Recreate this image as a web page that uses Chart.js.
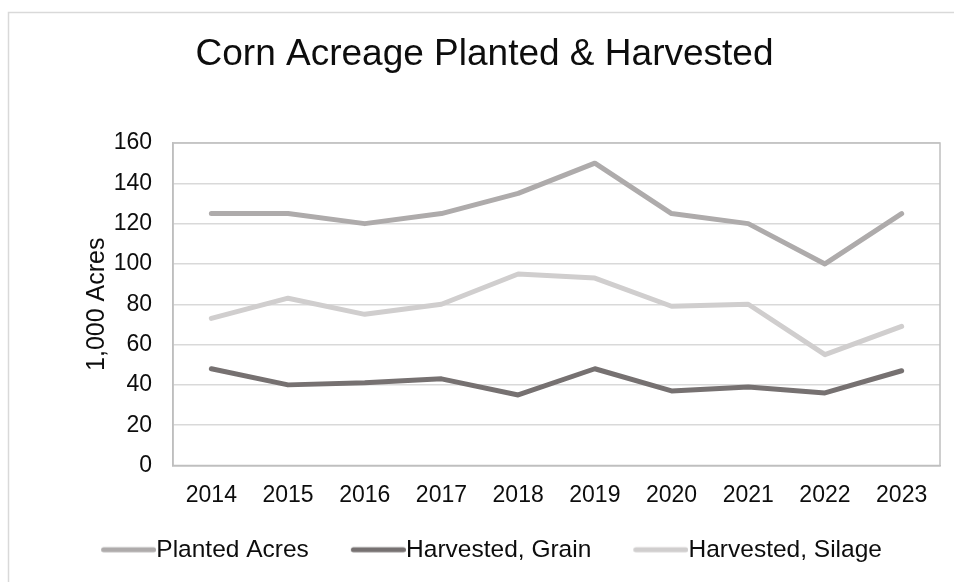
<!DOCTYPE html>
<html>
<head>
<meta charset="utf-8">
<script src="https://cdn.jsdelivr.net/npm/chart.js@4"></script>
<style>
  html, body { margin: 0; padding: 0; background: #fff; }
  #wrap { width: 954px; height: 582px; }
</style>
</head>
<body>
<div id="wrap"><canvas id="cornChart" width="954" height="582"></canvas></div>
<script>
const years = ["2014", "2015", "2016", "2017", "2018", "2019", "2020", "2021", "2022", "2023"];
const plantedAcres = [125, 125, 120, 125, 135, 150, 125, 120, 100, 125];
const harvestedGrain = [48, 40, 41, 43, 35, 48, 37, 39, 36, 47];
const harvestedSilage = [73, 83, 75, 80, 95, 93, 79, 80, 55, 69];
const seriesNames = ["Planted Acres", "Harvested, Grain", "Harvested, Silage"];
const seriesColors = ["#aeabab", "#767171", "#d0cece"];

// line image for the legend, pushed right so it touches the text
function legendLine(color) {
    const c = document.createElement('canvas');
    c.width = 81;
    c.height = 8;
    const g = c.getContext('2d');
    g.strokeStyle = color;
    g.lineWidth = 5;
    g.lineCap = 'round';
    g.beginPath();
    g.moveTo(28.5, 4);
    g.lineTo(78.5, 4);
    g.stroke();
    return c;
}

const frame = {
    id: 'frame',
    beforeDraw(chart) {
        const ctx = chart.ctx;
        ctx.save();
        ctx.strokeStyle = '#d9d9d9';
        ctx.lineWidth = 1.5;
        ctx.strokeRect(8.5, 12.5, 960, 600);
        ctx.restore();
    },
    beforeDatasetsDraw(chart) {
        const a = chart.chartArea;
        const ctx = chart.ctx;
        ctx.save();
        ctx.strokeStyle = '#bfbfbf';
        ctx.lineWidth = 1.5;
        ctx.strokeRect(a.left, a.top, a.right - a.left, a.bottom - a.top);
        ctx.restore();
    }
};

function createCornChart() {
    const ctx = document.getElementById('cornChart').getContext('2d');
    const values = [plantedAcres, harvestedGrain, harvestedSilage];

    new Chart(ctx, {
        type: 'line',
        data: {
            labels: years,
            datasets: values.map((v, i) => ({
                label: seriesNames[i],
                data: v,
                borderColor: seriesColors[i],
                backgroundColor: seriesColors[i],
                borderWidth: 5,
                borderCapStyle: 'round',
                borderJoinStyle: 'round',
                pointRadius: 0,
                tension: 0
            }))
        },
        options: {
            responsive: false,
            animation: false,
            layout: { padding: { left: 29, right: 14, top: 0, bottom: 10 } },
            plugins: {
                title: {
                    display: true,
                    text: 'Corn Acreage Planted & Harvested',
                    color: '#0d0d0d',
                    font: { family: 'Liberation Sans', size: 37, weight: 'normal' },
                    padding: { top: 33, bottom: 65.6 }
                },
                legend: {
                    position: 'bottom',
                    labels: {
                        usePointStyle: true,
                        pointStyleWidth: 57,
                        padding: 28,
                        color: '#0d0d0d',
                        font: { family: 'Liberation Sans', size: 24.5 },
                        generateLabels(chart) {
                            const items = Chart.defaults.plugins.legend.labels.generateLabels(chart);
                            items.forEach((it, i) => { it.pointStyle = legendLine(seriesColors[i]); });
                            return items;
                        }
                    }
                },
                tooltip: { enabled: false }
            },
            scales: {
                x: {
                    offset: true,
                    grid: { display: false, drawTicks: false },
                    border: { display: true, color: '#bfbfbf', width: 1.5 },
                    ticks: {
                        padding: 16,
                        color: '#0d0d0d',
                        font: { family: 'Liberation Sans', size: 23 }
                    },
                    afterFit(scale) { scale.height = 44; }
                },
                y: {
                    min: 0,
                    max: 160,
                    grid: { color: '#d9d9d9', lineWidth: 1.5, drawTicks: false },
                    border: { display: true, color: '#bfbfbf', width: 1.5 },
                    ticks: {
                        stepSize: 20,
                        padding: 21,
                        color: '#0d0d0d',
                        font: { family: 'Liberation Sans', size: 23 }
                    },
                    title: {
                        display: true,
                        text: '1,000 Acres',
                        color: '#0d0d0d',
                        font: { family: 'Liberation Sans', size: 25 },
                        padding: { top: 53, bottom: 0 }
                    },
                    afterFit(scale) { scale.width = 144; }
                }
            }
        },
        plugins: [frame]
    });
}

document.addEventListener("DOMContentLoaded", function() {
    createCornChart();
});
</script>
</body>
</html>
